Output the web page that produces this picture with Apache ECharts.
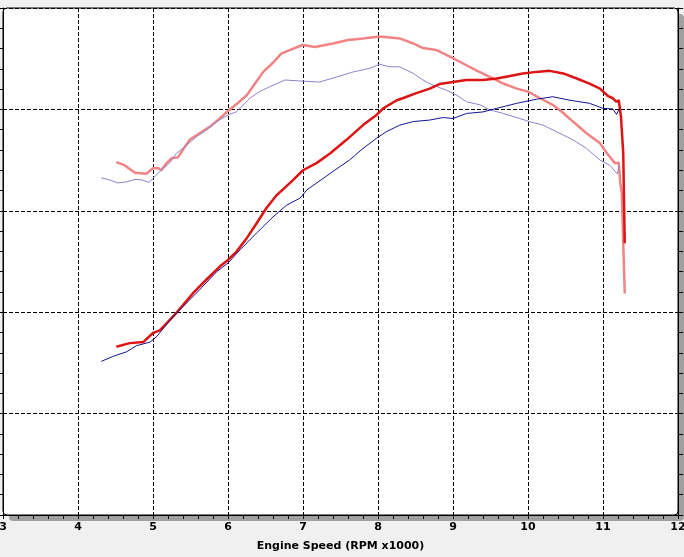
<!DOCTYPE html>
<html>
<head>
<meta charset="utf-8">
<script src="https://cdn.jsdelivr.net/npm/echarts@6/dist/echarts.min.js"></script>
<style>
html,body{margin:0;padding:0;background:#f0f0f0;}
#c{width:684px;height:557px;}
</style>
</head>
<body>
<div id="c"></div>
<script>
// X axis ticks (RPM x1000)
const xTicks = [3,4,5,6,7,8,9,10,11,12];
const xLabel = 'Engine Speed (RPM x1000)';

// Series 1: light red (thick)
const pinkRpm = [4.51,4.62,4.76,4.91,5.00,5.07,5.11,5.18,5.25,5.33,5.40,5.49,5.62,5.76,5.89,6.00,6.11,6.25,6.36,6.47,6.60,6.71,6.82,6.96,7.00,7.16,7.40,7.60,7.80,8.02,8.16,8.29,8.47,8.60,8.78,8.96,9.09,9.31,9.49,9.67,9.85,10.00,10.16,10.33,10.47,10.60,10.78,10.96,11.07,11.16,11.21,11.23,11.25,11.29];
const pinkVal = [69.6,69.0,67.5,67.3,68.4,68.4,68.0,69.4,70.4,70.5,72.1,74.0,75.3,76.6,78.2,79.7,81.0,82.8,85.1,87.4,89.2,91.0,91.7,92.5,92.7,92.3,93.0,93.7,94.0,94.4,94.2,94.0,93.0,92.1,91.7,90.4,89.4,87.7,86.4,85.1,84.1,83.5,82.2,80.9,79.3,77.6,75.3,73.3,71.0,69.4,69.5,65.5,63.5,43.7];

// Series 2: light violet (thin)
const violetRpm = [4.31,4.42,4.53,4.65,4.76,4.85,4.95,5.02,5.11,5.22,5.31,5.42,5.58,5.71,5.85,6.00,6.11,6.18,6.29,6.42,6.56,6.76,6.96,7.22,7.45,7.67,7.89,8.02,8.16,8.29,8.47,8.60,8.73,8.91,9.05,9.18,9.36,9.49,9.67,9.89,10.02,10.20,10.38,10.60,10.78,10.96,11.09,11.19,11.22];
const violetVal = [66.5,66.1,65.5,65.7,66.2,66.1,65.6,66.7,68.0,69.4,71.3,72.6,74.6,75.9,77.6,78.9,79.5,80.5,82.2,83.5,84.5,85.8,85.6,85.4,86.4,87.4,88.1,88.9,88.4,88.4,87.1,85.8,84.8,83.8,82.8,81.5,80.9,79.9,79.2,78.2,77.6,76.9,75.6,74.0,72.3,70.0,69.0,67.3,69.0];

// Series 3: red (thick)
const redRpm = [4.51,4.69,4.87,5.00,5.09,5.18,5.29,5.40,5.53,5.71,5.89,6.00,6.11,6.25,6.38,6.51,6.65,6.87,7.00,7.18,7.36,7.58,7.80,7.98,8.07,8.25,8.33,8.51,8.69,8.82,9.00,9.18,9.40,9.58,9.76,9.93,10.11,10.29,10.47,10.65,10.82,10.96,11.07,11.13,11.18,11.21,11.24,11.27,11.28,11.29];
const redVal = [33.2,33.9,34.1,35.9,36.4,37.8,39.5,41.4,43.7,46.4,49.0,50.3,51.9,54.6,57.5,60.5,63.1,66.1,68.0,69.4,71.3,74.0,76.9,78.9,80.2,81.8,82.2,83.2,84.1,85.0,85.4,85.8,85.8,86.1,86.6,87.1,87.4,87.6,87.1,86.1,85.1,84.1,82.6,82.2,81.5,81.8,78.5,71.3,62.1,53.6];

// Series 4: dark blue (thin)
const blueRpm = [4.31,4.47,4.65,4.78,4.96,5.05,5.16,5.27,5.40,5.62,5.85,6.00,6.16,6.38,6.60,6.78,6.96,7.05,7.27,7.49,7.62,7.80,7.98,8.11,8.29,8.47,8.69,8.87,9.00,9.18,9.40,9.58,9.85,10.11,10.33,10.56,10.82,11.00,11.13,11.18,11.22];
const blueVal = [30.3,31.3,32.2,33.4,34.1,35.2,37.2,39.1,41.1,44.4,48.0,49.7,52.3,55.6,58.8,61.1,62.5,64.1,66.4,68.7,70.0,72.3,74.3,75.6,76.9,77.6,77.9,78.4,78.2,79.2,79.5,80.2,81.2,82.0,82.5,81.8,81.2,80.2,80.1,79.0,80.2];

const zip = (a, b) => a.map((v, i) => [v, b[i]]);

const chart = echarts.init(document.getElementById('c'));
const font = '"DejaVu Sans", Verdana, sans-serif';
const dashed = {show: true, lineStyle: {color: '#000', type: [4, 2], width: 1}};

chart.setOption({
  backgroundColor: '#f0f0f0',
  animation: false,
  grid: {
    left: 3, right: 6, top: 8, bottom: 42,
    outerBoundsMode: 'none', containLabel: false,
    show: false
  },
  xAxis: {
    type: 'value', min: xTicks[0], max: xTicks[xTicks.length - 1], interval: 1,
    name: xLabel, nameLocation: 'middle', nameGap: 26,
    nameTextStyle: {fontFamily: font, fontWeight: 'bold', fontSize: 11, color: '#000'},
    axisLine: {lineStyle: {color: '#000', width: 1}},
    axisTick: {show: true, inside: false, length: 4, lineStyle: {color: '#000'}},
    minorTick: {show: true, splitNumber: 5, length: 4, lineStyle: {color: '#000'}},
    axisLabel: {fontFamily: font, fontWeight: 'bold', fontSize: 11, color: '#000', margin: 7},
    splitLine: dashed
  },
  yAxis: [{
    type: 'value', min: 0, max: 100, interval: 20,
    axisLine: {show: true, lineStyle: {color: '#000'}},
    axisTick: {show: true, length: 4, lineStyle: {color: '#000'}},
    minorTick: {show: true, splitNumber: 5, length: 4, lineStyle: {color: '#000'}},
    axisLabel: {show: false},
    splitLine: dashed
  }, {
    type: 'value', min: 0, max: 100, interval: 20, position: 'right',
    axisLine: {show: true, lineStyle: {color: '#000'}},
    axisTick: {show: true, length: 5, lineStyle: {color: '#000'}},
    minorTick: {show: true, splitNumber: 5, length: 5, lineStyle: {color: '#000'}},
    axisLabel: {show: false},
    splitLine: {show: false}
  }],
  series: [
    {type: 'line', data: zip(pinkRpm, pinkVal), showSymbol: false, lineStyle: {color: '#f08484', width: 2.5}, z: 2},
    {type: 'line', data: zip(violetRpm, violetVal), showSymbol: false, lineStyle: {color: '#8e84d0', width: 1}, z: 3},
    {type: 'line', data: zip(redRpm, redVal), showSymbol: false, lineStyle: {color: '#dd1414', width: 2.5}, z: 4},
    {type: 'line', data: zip(blueRpm, blueVal), showSymbol: false, lineStyle: {color: '#141490', width: 1}, z: 5}
  ]
});

// Frame: plot background, rounded border and grey drop shadow, placed from the axes' own scale
const px0 = chart.convertToPixel({xAxisIndex: 0}, xTicks[0]);
const px1 = chart.convertToPixel({xAxisIndex: 0}, xTicks[xTicks.length - 1]);
const py0 = chart.convertToPixel({yAxisIndex: 0}, 100);
const py1 = chart.convertToPixel({yAxisIndex: 0}, 0);
const W = px1 - px0, H = py1 - py0;
chart.setOption({
  graphic: [
    {type: 'rect', z: -20, silent: true, shape: {x: px0 + 6, y: py0 + 6, width: W, height: H, r: 4}, style: {fill: '#a0a0a0'}},
    {type: 'rect', z: -10, silent: true, shape: {x: px0, y: py0, width: W, height: H, r: 4}, style: {fill: '#ffffff', stroke: '#000', lineWidth: 1}}
  ]
});
</script>
</body>
</html>
